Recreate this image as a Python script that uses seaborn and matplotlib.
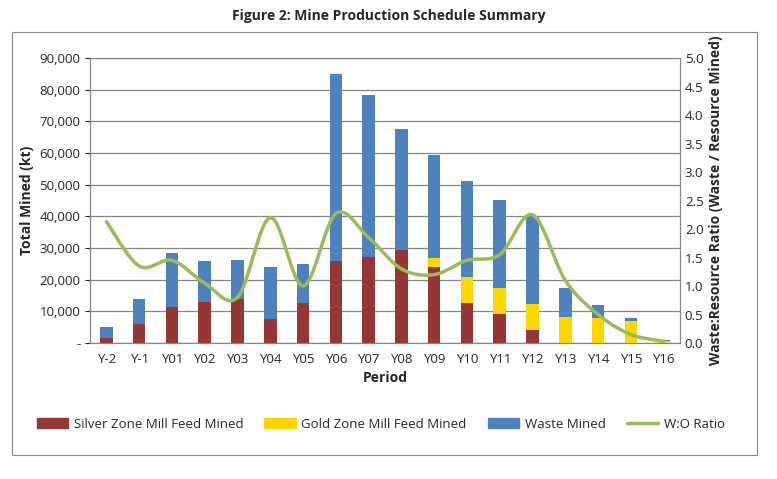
import matplotlib.pyplot as plt
import seaborn as sns
import numpy as np
import pandas as pd
from matplotlib.patches import Rectangle

periods = ['Y-2', 'Y-1', 'Y01', 'Y02', 'Y03', 'Y04', 'Y05', 'Y06', 'Y07', 'Y08',
           'Y09', 'Y10', 'Y11', 'Y12', 'Y13', 'Y14', 'Y15', 'Y16']
silver = [1500, 6000, 11500, 12800, 14000, 7500, 12500, 26000, 27300, 29500,
          24000, 12500, 9300, 4200, 0, 0, 0, 0]
gold = [0, 0, 0, 0, 0, 0, 0, 0, 0, 0,
        3000, 8300, 8200, 8100, 8200, 8000, 7000, 500]
waste = [3500, 8000, 17000, 13200, 12300, 16500, 12500, 59000, 51000, 38000,
         32500, 30200, 27500, 27700, 9300, 4000, 1000, 400]
wo_ratio = [2.13, 1.35, 1.45, 1.05, 0.8, 2.2, 1.0, 2.27, 1.85, 1.3,
            1.2, 1.45, 1.55, 2.25, 1.1, 0.5, 0.15, 0.03]

df = pd.DataFrame({'Period': periods, 'Silver': silver, 'Gold': gold, 'Waste': waste})
df['SG'] = df['Silver'] + df['Gold']
df['Total'] = df['SG'] + df['Waste']

sns.set_style('white')
plt.rcParams['font.family'] = ['Open Sans', 'DejaVu Sans']

fig = plt.figure(figsize=(7.77, 4.79), dpi=100)
fig.patches.append(Rectangle((12 / 777, 1 - 455 / 479), 745 / 777, 423 / 479,
                             transform=fig.transFigure, fill=False, ec='#888888', lw=0.8))
ax = fig.add_axes([90 / 777, 1 - 343 / 479, 590 / 777, 285 / 479])

red, yellow, blue, green = '#953735', '#FFD700', '#4F81BD', '#9BBB59'
for col, c in [('Total', blue), ('SG', yellow), ('Silver', red)]:
    sns.barplot(data=df, x='Period', y=col, color=c, width=0.38, saturation=1,
                linewidth=0, ax=ax)

ax.set_ylim(0, 90000)
ax.set_yticks(np.arange(0, 90001, 10000))
ax.set_yticklabels(['-'] + [f'{v:,}' for v in range(10000, 90001, 10000)], fontsize=9.5)
ax.tick_params(axis='x', labelsize=9.5)
ax.grid(axis='y', color='#868686', lw=0.9)
ax.set_axisbelow(True)
for s in ax.spines.values():
    s.set_color('#868686')
ax.set_xlabel('Period', fontsize=10, fontweight='bold')
ax.set_ylabel('Total Mined (kt)', fontsize=10, fontweight='bold')

# smooth line like Excel (Catmull-Rom through the points)
x = np.arange(len(wo_ratio), dtype=float)
y = np.array(wo_ratio)
px = np.concatenate([[x[0]], x, [x[-1]]])
py = np.concatenate([[y[0]], y, [y[-1]]])
sx, sy = [], []
t = np.linspace(0, 1, 20)
for i in range(1, len(px) - 2):
    p0, p1, p2, p3 = [np.array([px[j], py[j]]) for j in range(i - 1, i + 3)]
    pts = 0.5 * ((2 * p1)[:, None] + (-p0 + p2)[:, None] * t
                 + (2 * p0 - 5 * p1 + 4 * p2 - p3)[:, None] * t ** 2
                 + (-p0 + 3 * p1 - 3 * p2 + p3)[:, None] * t ** 3)
    sx.extend(pts[0]); sy.extend(pts[1])

ax2 = ax.twinx()
sns.lineplot(x=sx, y=sy, color=green, lw=2.5, ax=ax2, sort=False)
ax2.set_ylim(0, 5)
ax2.set_yticks(np.arange(0, 5.01, 0.5))
ax2.set_yticklabels([f'{v:.1f}' for v in np.arange(0, 5.01, 0.5)], fontsize=9.5)
ax2.set_ylabel('Waste:Resource Ratio (Waste / Resource Mined)', fontsize=10, fontweight='bold')
ax2.tick_params(axis='y', length=0)
for s in ax2.spines.values():
    s.set_color('#868686')
ax.set_xlim(-0.5, len(periods) - 0.5)

fig.text(0.5, 1 - 16 / 479, 'Figure 2: Mine Production Schedule Summary',
         ha='center', va='center', fontsize=10, fontweight='bold')

handles = [Rectangle((0, 0), 1, 1, color=red), Rectangle((0, 0), 1, 1, color=yellow),
           Rectangle((0, 0), 1, 1, color=blue), plt.Line2D([], [], color=green, lw=2.5)]
fig.legend(handles, ['Silver Zone Mill Feed Mined', 'Gold Zone Mill Feed Mined',
                     'Waste Mined', 'W:O Ratio'],
           loc='center', bbox_to_anchor=(0.49, 1 - 424 / 479), ncol=4, frameon=False,
           fontsize=9.5, handlelength=2.4, handletextpad=0.4, columnspacing=1.6)

fig.savefig('out.png', dpi=100)
